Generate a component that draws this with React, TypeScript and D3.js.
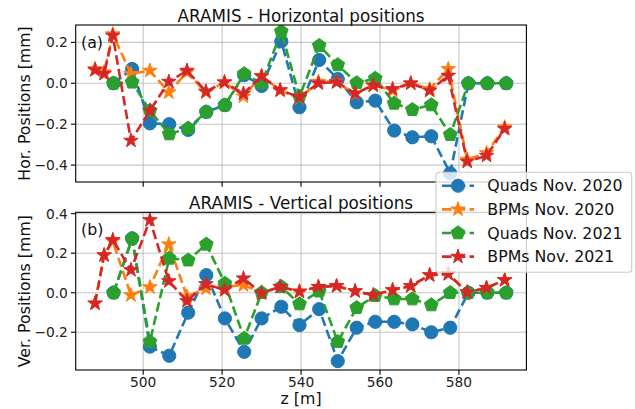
import React from "react";
import * as d3 from "d3";

const zQuads = [492.5, 497.2, 501.7, 506.6, 511.4, 516.0, 520.7, 525.6, 530.0, 535.0, 539.6, 544.6, 549.3, 554.1, 558.8, 563.6, 568.2, 573.0, 577.8, 582.4, 587.2, 592.0];
const zBPMs = [487.8, 490.1, 492.3, 496.9, 501.7, 506.5, 511.1, 515.9, 520.6, 525.4, 530.0, 534.7, 539.6, 544.4, 549.0, 553.7, 558.3, 563.2, 567.8, 572.6, 577.3, 582.1, 587.0, 591.6];

const horQuads2020 = [0.0, 0.07, -0.196, -0.2, -0.228, -0.14, -0.107, 0.04, -0.013, 0.205, -0.117, 0.114, 0.021, -0.093, -0.085, -0.231, -0.264, -0.259, -0.44, 0.0, 0.0, 0.0];
const horBPMs2020 = [0.07, 0.054, 0.24, 0.046, 0.062, -0.044, 0.054, -0.044, 0.005, -0.064, 0.037, -0.036, -0.073, 0.008, 0.008, -0.052, -0.008, -0.036, 0.0, -0.028, 0.07, -0.373, -0.341, -0.215];
const horQuads2021 = [0.0, 0.005, -0.134, -0.248, -0.22, -0.14, -0.107, 0.046, 0.0, 0.253, -0.065, 0.184, 0.09, 0.002, 0.024, -0.098, -0.129, -0.106, -0.251, 0.0, 0.0, 0.0];
const horBPMs2021 = [0.065, 0.046, 0.233, -0.28, -0.134, 0.008, 0.062, -0.04, 0.005, -0.05, 0.034, -0.033, -0.068, 0.0, 0.005, -0.049, -0.011, -0.028, 0.0, -0.036, 0.037, -0.383, -0.354, -0.223];

const verQuads2020 = [0.0, 0.275, -0.273, -0.319, -0.101, 0.089, -0.13, -0.299, -0.13, -0.071, -0.164, -0.083, -0.346, -0.177, -0.147, -0.147, -0.16, -0.2, -0.177, 0.0, 0.0, 0.0];
const verBPMs2020 = [-0.054, 0.19, 0.26, -0.012, 0.028, 0.245, -0.02, 0.022, 0.03, 0.039, 0.002, 0.03, 0.008, 0.03, 0.034, 0.008, -0.012, 0.0135, 0.034, 0.089, 0.095, 0.002, 0.025, 0.064];
const verQuads2021 = [0.0, 0.275, -0.248, 0.174, 0.165, 0.245, 0.047, -0.231, 0.0, 0.03, -0.057, 0.008, -0.248, -0.076, -0.015, -0.032, -0.032, -0.062, 0.0, 0.0, 0.0, 0.0];
const verBPMs2021 = [-0.054, 0.19, 0.267, 0.115, 0.368, 0.059, -0.042, 0.044, 0.0135, 0.073, -0.003, 0.03, 0.005, 0.03, 0.034, 0.008, -0.012, 0.0135, 0.034, 0.089, 0.095, 0.002, 0.025, 0.064];

const xTicks = [500, 520, 540, 560, 580];
const yTicksTop = [-0.4, -0.2, 0.0, 0.2];
const yTicksBot = [-0.2, 0.0, 0.2, 0.4];
const legendLabels = ["Quads Nov. 2020", "BPMs Nov. 2020", "Quads Nov. 2021", "BPMs Nov. 2021"];
const seriesColors = ["#1f77b4", "#ff7f0e", "#2ca02c", "#d62728"];
const seriesMarkers = ["circle", "star", "pentagon", "star"];
const titles = ["ARAMIS - Horizontal positions", "ARAMIS - Vertical positions"];
const yLabels = ["Hor. Positions [mm]", "Ver. Positions [mm]"];
const panelTags = ["(a)", "(b)"];

const FONT = "DejaVu Sans, sans-serif";
const L = 75.7, R = 526.4;
const panels = [
  { top: 25, bottom: 182, domain: [-0.4826, 0.285], ticks: yTicksTop, z: [zQuads, zBPMs, zQuads, zBPMs], v: [horQuads2020, horBPMs2020, horQuads2021, horBPMs2021] },
  { top: 212.3, bottom: 370, domain: [-0.391, 0.407], ticks: yTicksBot, z: [zQuads, zBPMs, zQuads, zBPMs], v: [verQuads2020, verBPMs2020, verQuads2021, verBPMs2021] },
];

function starPath(Ro: number) {
  const ri = Ro * 0.381966;
  const pts: string[] = [];
  for (let i = 0; i < 10; i++) {
    const a = -Math.PI / 2 + (i * Math.PI) / 5;
    const r = i % 2 === 0 ? Ro : ri;
    pts.push(`${(r * Math.cos(a)).toFixed(2)},${(r * Math.sin(a)).toFixed(2)}`);
  }
  return "M" + pts.join("L") + "Z";
}
function pentPath(Ro: number) {
  const pts: string[] = [];
  for (let i = 0; i < 5; i++) {
    const a = -Math.PI / 2 + (i * 2 * Math.PI) / 5;
    pts.push(`${(Ro * Math.cos(a)).toFixed(2)},${(Ro * Math.sin(a)).toFixed(2)}`);
  }
  return "M" + pts.join("L") + "Z";
}

function Marker({ kind, x, y, color }: { kind: string; x: number; y: number; color: string }) {
  if (kind === "circle") return <circle cx={x} cy={y} r={6.6} fill={color} stroke={color} strokeWidth={1} />;
  const d = kind === "star" ? starPath(7.6) : pentPath(7.2);
  return <path d={d} transform={`translate(${x},${y})`} fill={color} stroke={color} strokeWidth={1} strokeLinejoin="miter" />;
}

const fmt = (v: number) => v.toFixed(1).replace("-", "\u2212");

export default function App() {
  const x = d3.scaleLinear().domain([482.9, 597.1]).range([L, R]);
  const lw = 2.6;
  const dash = "9.6,4.2";
  return (
    <svg width={635} height={409} style={{ position: "absolute", left: 0, top: 0, background: "white" }} fontFamily={FONT}>
      <defs>
        {panels.map((p, i) => (
          <clipPath id={`clip${i}`} key={i}>
            <rect x={L} y={p.top} width={R - L} height={p.bottom - p.top} />
          </clipPath>
        ))}
      </defs>
      <rect x={0} y={0} width={635} height={409} fill="white" />
      {panels.map((p, pi) => {
        const y = d3.scaleLinear().domain(p.domain).range([p.bottom, p.top]);
        const line = d3.line<[number, number]>().x((d) => x(d[0])).y((d) => y(d[1]));
        return (
          <g key={pi}>
            {/* grid */}
            {xTicks.map((t) => (
              <line key={"gx" + t} x1={x(t)} x2={x(t)} y1={p.top} y2={p.bottom} stroke="#b0b0b0" strokeWidth={1.1} opacity={0.7} />
            ))}
            {p.ticks.map((t) => (
              <line key={"gy" + t} x1={L} x2={R} y1={y(t)} y2={y(t)} stroke="#b0b0b0" strokeWidth={1.1} opacity={0.7} />
            ))}
            {/* series */}
            <g clipPath={`url(#clip${pi})`}>
              {p.v.map((vals, si) => {
                const pts: [number, number][] = vals.map((v, k) => [p.z[si][k], v]);
                return (
                  <g key={si}>
                    <path d={line(pts) || ""} fill="none" stroke={seriesColors[si]} strokeWidth={lw} strokeDasharray={dash} />
                    {pts.map((d, k) => (
                      <Marker key={k} kind={seriesMarkers[si]} x={x(d[0])} y={y(d[1])} color={seriesColors[si]} />
                    ))}
                  </g>
                );
              })}
            </g>
            {/* spines */}
            <rect x={L} y={p.top} width={R - L} height={p.bottom - p.top} fill="none" stroke="black" strokeWidth={1.1} />
            {/* x ticks */}
            {xTicks.map((t) => (
              <line key={"tx" + t} x1={x(t)} x2={x(t)} y1={p.bottom} y2={p.bottom + 4.8} stroke="black" strokeWidth={1.1} />
            ))}
            {/* y ticks */}
            {p.ticks.map((t) => (
              <g key={"ty" + t}>
                <line x1={L - 4.8} x2={L} y1={y(t)} y2={y(t)} stroke="black" strokeWidth={1.1} />
                <text x={L - 7.8} y={y(t)} textAnchor="end" dominantBaseline="central" fontSize={13.8} fill="#222">
                  {fmt(t)}
                </text>
              </g>
            ))}
            <text x={(L + R) / 2} y={pi === 0 ? 21.5 : 209.3} textAnchor="middle" fontSize={16.8} fill="#111">
              {titles[pi]}
            </text>
            <text x={81} y={pi === 0 ? 47.5 : 234.5} fontSize={15.8} fill="#111">
              {panelTags[pi]}
            </text>
            <text transform={`translate(29.8,${(p.top + p.bottom) / 2}) rotate(-90)`} textAnchor="middle" fontSize={15.8} fill="#111">
              {yLabels[pi]}
            </text>
          </g>
        );
      })}
      {xTicks.map((t) => (
        <text key={"xl" + t} x={x(t)} y={386.8} textAnchor="middle" fontSize={13.8} fill="#222">
          {t}
        </text>
      ))}
      <text x={(L + R) / 2} y={404} textAnchor="middle" fontSize={15.8} fill="#111">
        z [m]
      </text>
      {/* legend */}
      <g>
        <rect x={436} y={172.3} width={195.7} height={100} rx={3} fill="white" fillOpacity={0.8} stroke="#cccccc" strokeWidth={1.1} />
        {legendLabels.map((lab, i) => {
          const ly = 185.7 + i * 23.65;
          return (
            <g key={lab}>
              <line x1={442} x2={474} y1={ly} y2={ly} stroke={seriesColors[i]} strokeWidth={lw} strokeDasharray={dash} />
              <Marker kind={seriesMarkers[i]} x={458} y={ly} color={seriesColors[i]} />
              <text x={487.3} y={ly} dominantBaseline="central" fontSize={15.8} fill="#111">
                {lab}
              </text>
            </g>
          );
        })}
      </g>
    </svg>
  );
}
